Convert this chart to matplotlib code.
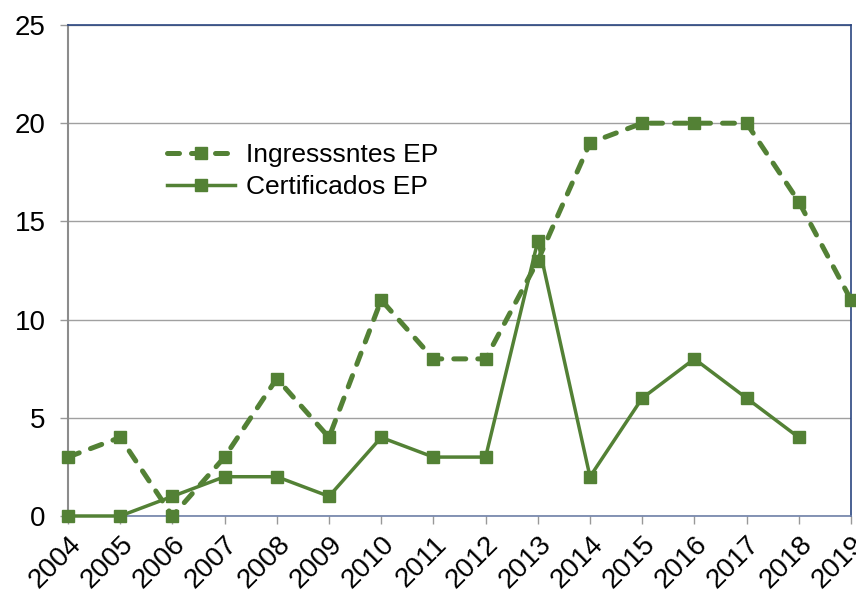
import matplotlib.pyplot as plt
import numpy as np

plt.rcParams['font.family'] = ['Liberation Sans', 'DejaVu Sans']

years = list(range(2004, 2020))
ingressantes = [3, 4, 0, 3, 7, 4, 11, 8, 8, 13, 19, 20, 20, 20, 16, 11]
certificados = [0, 0, 1, 2, 2, 1, 4, 3, 3, 14, 2, 6, 8, 6, 4, np.nan]

GREEN = '#538135'

fig = plt.figure(figsize=(8.56, 5.92), dpi=100)
ax = fig.add_axes([68 / 856, 1 - 516 / 592, (851 - 68) / 856, (516 - 25) / 592])

ax.plot(years, ingressantes, color=GREEN, lw=3.6, ls=(0, (2.4, 2.4)), dash_capstyle='round',
        marker='s', ms=8, label='Ingresssntes EP', clip_on=False, zorder=3)
ax.plot(years, certificados, color=GREEN, lw=2.5, marker='s', ms=8,
        label='Certificados EP', clip_on=False, zorder=3)

ax.set_xlim(2004, 2019)
ax.set_ylim(0, 25)
ax.set_yticks([0, 5, 10, 15, 20, 25])
ax.set_xticks(years)
ax.set_xticklabels([str(y) for y in years], rotation=45, ha='right', rotation_mode='anchor')
ax.tick_params(axis='both', labelsize=20, colors='#999999', labelcolor='black', length=6, width=1)
ax.tick_params(axis='x', pad=5)
ax.tick_params(axis='y', pad=10)

ax.yaxis.grid(True, color='#a0a0a0', lw=1)
ax.set_axisbelow(True)
for side in ['top', 'bottom', 'right']:
    ax.spines[side].set_color('#2a4580')
    ax.spines[side].set_linewidth(1.2)
ax.spines['bottom'].set_color('#6f80a8')
ax.spines['left'].set_color('#8c8c8c')
ax.spines['left'].set_linewidth(1.5)

ax.legend(loc='upper left', bbox_to_anchor=(0.126, 0.76), frameon=False, fontsize=19,
          handlelength=2.6, labelspacing=0.3, handletextpad=0.4, borderpad=0, borderaxespad=0)

fig.savefig('out.png', dpi=100)
